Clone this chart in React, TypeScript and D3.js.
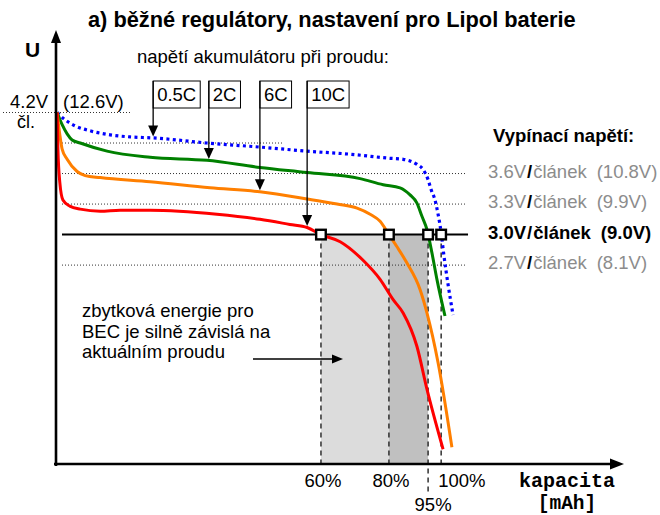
import { useEffect, useRef } from 'react';
import * as d3 from 'd3';

type Pt = [number, number];

// [capacity, cell voltage] (capacity 100 = where 0.5C reaches 3.0 V)
const curve05C: Pt[] = [
  [0.3, 4.2], [2.3, 4.13], [4.9, 4.07], [8.9, 4.02], [14.1, 3.98], [19.3, 3.96],
  [25.3, 3.95], [39.3, 3.9], [53.1, 3.86], [65.4, 3.82], [76.6, 3.79], [87.0, 3.75],
  [90.4, 3.74], [94.0, 3.69], [95.6, 3.64], [96.9, 3.54], [97.7, 3.44], [98.7, 3.34],
  [99.5, 3.2], [100.3, 3.02], [101.0, 2.8], [102.1, 2.51], [103.4, 2.21],
];
const curve2C: Pt[] = [
  [0.3, 4.2], [1.6, 4.08], [2.9, 3.99], [4.2, 3.93], [6.3, 3.9], [13.3, 3.82],
  [24.5, 3.76], [39.3, 3.73], [53.1, 3.66], [65.4, 3.61], [79.2, 3.55], [85.2, 3.49],
  [89.6, 3.46], [92.2, 3.39], [94.0, 3.31], [95.3, 3.18], [96.6, 3.05], [97.9, 2.82],
  [99.2, 2.56], [101.3, 2.2],
];
const curve6C: Pt[] = [
  [0.3, 4.2], [0.5, 4.13], [1.0, 3.98], [1.6, 3.84], [2.9, 3.74], [5.5, 3.62],
  [7.6, 3.58], [11.5, 3.56], [24.5, 3.52], [40.1, 3.46], [53.1, 3.42], [65.4, 3.35],
  [73.2, 3.3], [78.4, 3.26], [81.8, 3.2], [84.4, 3.13], [86.7, 3.0], [88.8, 2.88],
  [91.4, 2.72], [94.8, 2.46], [96.6, 2.23], [99.5, 1.74], [103.1, 0.91],
];
const curve10C: Pt[] = [
  [0.3, 4.2], [0.5, 3.84], [1.0, 3.51], [1.8, 3.34], [3.6, 3.28], [6.3, 3.25],
  [11.5, 3.23], [16.7, 3.24], [24.5, 3.24], [41.9, 3.2], [53.1, 3.15], [60.9, 3.1],
  [65.4, 3.07], [69.0, 3.0], [74.0, 2.93], [79.9, 2.75], [84.4, 2.56], [87.8, 2.36],
  [90.4, 2.23], [94.0, 1.9], [96.6, 1.48], [100.8, 0.89],
];

const rateLabels = ['0.5C', '2C', '6C', '10C'];
const rateArrowCap = [25.3, 39.8, 53.1, 65.4];

const cutoffVolts = [3.6, 3.3, 3.0, 2.7];
const cutoffCell = ['3.6V', '3.3V', '3.0V', '2.7V'];
const cutoffPack = ['(10.8V)', '(9.9V)', '(9.0V)', '(8.1V)'];
const activeCutoff = 3.0;

const endCaps = [69.0, 86.7, 96.9, 100.3];
const endLabels = ['60%', '80%', '95%', '100%'];

const FONT = 'Arial, "Liberation Sans", sans-serif';
const MONO = '"Courier New", "Liberation Mono", monospace';
const colors = ['#0000ff', '#008000', '#ff7f00', '#ff0000'];

const valueAt = (c: Pt[], cap: number) => {
  const i = Math.max(0, d3.bisector((d: Pt) => d[0]).right(c, cap) - 1);
  const a = c[i], b = c[Math.min(i + 1, c.length - 1)];
  if (b[0] === a[0]) return a[1];
  return a[1] + (b[1] - a[1]) * (cap - a[0]) / (b[0] - a[0]);
};

export default function App() {
  const svgRef = useRef<SVGSVGElement>(null);

  useEffect(() => {
    const svg = d3.select(svgRef.current);
    svg.selectAll('*').remove();

    const curves = [curve05C, curve2C, curve6C, curve10C];
    const x = d3.scaleLinear().domain([0, 100]).range([56, 440]);
    const y = d3.scaleLinear().domain([0.75, 4.2]).range([463.5, 112.5]);
    const axisX = 56;
    const axisY = 464;
    const yCut = y(activeCutoff);

    const tri = (pts: number[][]) =>
      svg.append('path').attr('d', 'M' + pts.map(p => p.join(',')).join('L') + 'Z').attr('fill', '#000');

    // shaded remaining energy
    svg.append('rect')
      .attr('x', x(endCaps[0])).attr('y', yCut)
      .attr('width', x(endCaps[1]) - x(endCaps[0])).attr('height', axisY - yCut)
      .attr('fill', '#dcdcdc');
    svg.append('rect')
      .attr('x', x(endCaps[1])).attr('y', yCut)
      .attr('width', x(endCaps[2]) - x(endCaps[1])).attr('height', axisY - yCut)
      .attr('fill', '#c0c0c0');

    // dashed drop lines
    endCaps.forEach((c, i) => {
      svg.append('line')
        .attr('x1', x(c)).attr('x2', x(c))
        .attr('y1', yCut).attr('y2', i === 2 ? 494 : axisY)
        .attr('stroke', '#222').attr('stroke-width', 1.4)
        .attr('stroke-dasharray', '5 4');
    });

    // dotted reference levels
    const dotted = (x1: number, x2: number, yy: number) =>
      svg.append('line')
        .attr('x1', x1).attr('x2', x2).attr('y1', yy).attr('y2', yy)
        .attr('stroke', '#333').attr('stroke-width', 1)
        .attr('stroke-dasharray', '1 2');
    dotted(3, 132, y(4.2));
    dotted(62, x(59.1), y(3.9));
    cutoffVolts.forEach(v => {
      if (v !== activeCutoff) dotted(62, x(106.8), y(v));
    });

    // active cut-off line
    svg.append('line')
      .attr('x1', 62).attr('x2', x(107.3)).attr('y1', yCut).attr('y2', yCut)
      .attr('stroke', '#000').attr('stroke-width', 2);

    // curves
    const line = d3.line<Pt>().x(d => x(d[0])).y(d => y(d[1])).curve(d3.curveMonotoneX);
    curves.forEach((c, i) => {
      svg.append('path')
        .attr('d', line(c))
        .attr('fill', 'none')
        .attr('stroke', colors[i])
        .attr('stroke-width', i === 0 ? 3.2 : 3)
        .attr('stroke-dasharray', i === 0 ? '3 3.4' : null);
    });

    // markers where curves reach cut-off
    endCaps.forEach(c => {
      svg.append('rect')
        .attr('x', x(c) - 4.8).attr('y', yCut - 4.8)
        .attr('width', 9.6).attr('height', 9.6)
        .attr('fill', '#fff').attr('stroke', '#000').attr('stroke-width', 2.4);
    });

    // axes
    svg.append('line').attr('x1', axisX).attr('x2', axisX).attr('y1', 466).attr('y2', 42)
      .attr('stroke', '#000').attr('stroke-width', 2.6);
    tri([[axisX, 30], [axisX - 5, 43], [axisX + 5, 43]]);
    svg.append('line').attr('x1', 54).attr('x2', 611).attr('y1', axisY).attr('y2', axisY)
      .attr('stroke', '#000').attr('stroke-width', 2.6);
    tri([[624, axisY], [610, axisY - 5.5], [610, axisY + 5.5]]);

    // rate labels with arrows
    rateLabels.forEach((lab, i) => {
      const ax = x(rateArrowCap[i]);
      const tip = y(valueAt(curves[i], rateArrowCap[i])) - 1.5;
      const t = svg.append('text')
        .attr('x', ax + 4).attr('y', 101)
        .attr('font-family', FONT).attr('font-size', 18.5)
        .text(lab);
      const w = (t.node() as SVGTextElement).getComputedTextLength();
      svg.append('rect')
        .attr('x', ax).attr('y', 81).attr('width', w + 8).attr('height', 27)
        .attr('fill', 'none').attr('stroke', '#000').attr('stroke-width', 1);
      svg.append('line').attr('x1', ax).attr('x2', ax).attr('y1', 81).attr('y2', tip - 10)
        .attr('stroke', '#000').attr('stroke-width', 1.3);
      tri([[ax, tip], [ax - 5, tip - 11], [ax + 5, tip - 11]]);
    });

    const text = (s: string, tx: number, ty: number, opts: { size?: number; weight?: string; anchor?: string; fill?: string; family?: string } = {}) =>
      svg.append('text')
        .attr('x', tx).attr('y', ty)
        .attr('font-family', opts.family ?? FONT)
        .attr('font-size', opts.size ?? 18.5)
        .attr('font-weight', opts.weight ?? 'normal')
        .attr('text-anchor', opts.anchor ?? 'start')
        .attr('fill', opts.fill ?? '#000')
        .text(s);

    text('a) běžné regulátory, nastavení pro Lipol baterie', 88, 27, { size: 21.8, weight: 'bold' });
    text('U', 25, 57, { size: 21, weight: 'bold' });
    text('napětí akumulátoru při proudu:', 137, 63);
    text('4.2V', 10, 108);
    text('(12.6V)', 63, 108);
    text('čl.', 17, 128, { size: 18 });

    // cut-off legend
    text('Vypínací napětí:', 493, 142, { weight: 'bold' });
    cutoffVolts.forEach((v, i) => {
      const on = v === activeCutoff;
      const col = on ? '#000' : '#8c8c8c';
      const t = svg.append('text')
        .attr('x', 488).attr('y', y(v) + 4)
        .attr('font-family', FONT).attr('font-size', 18.5)
        .attr('font-weight', on ? 'bold' : 'normal');
      t.append('tspan').attr('fill', col).text(cutoffCell[i]);
      t.append('tspan').attr('fill', '#000').attr('font-weight', 'bold').attr('dx', 1).text('/');
      t.append('tspan').attr('fill', col).attr('dx', 1).text('článek');
      t.append('tspan').attr('fill', col).attr('dx', 10).text(cutoffPack[i]);
    });

    // percentage labels
    endLabels.forEach((lab, i) => {
      const px = x(endCaps[i]);
      if (i === 3) text(lab, px - 3, 487);
      else if (i === 2) text(lab, px + 5, 511, { anchor: 'middle' });
      else text(lab, px + 2, 487, { anchor: 'middle' });
    });

    text('kapacita', 567, 487, { family: MONO, size: 20, weight: 'bold', anchor: 'middle' });
    text('[mAh]', 567, 509, { family: MONO, size: 19.5, weight: 'bold', anchor: 'middle' });

    // note
    ['zbytková energie pro', 'BEC je silně závislá na', 'aktuálním proudu'].forEach((s, i) => {
      text(s, 82, 317 + i * 20.5);
    });
    svg.append('line').attr('x1', 253).attr('x2', 333).attr('y1', 359).attr('y2', 359)
      .attr('stroke', '#000').attr('stroke-width', 1.3);
    tri([[343, 359], [332, 354.5], [332, 363.5]]);
  }, []);

  return (
    <div style={{ position: 'absolute', left: 0, top: 0, background: '#fff' }}>
      <svg ref={svgRef} width={660} height={515} style={{ display: 'block' }} />
    </div>
  );
}
